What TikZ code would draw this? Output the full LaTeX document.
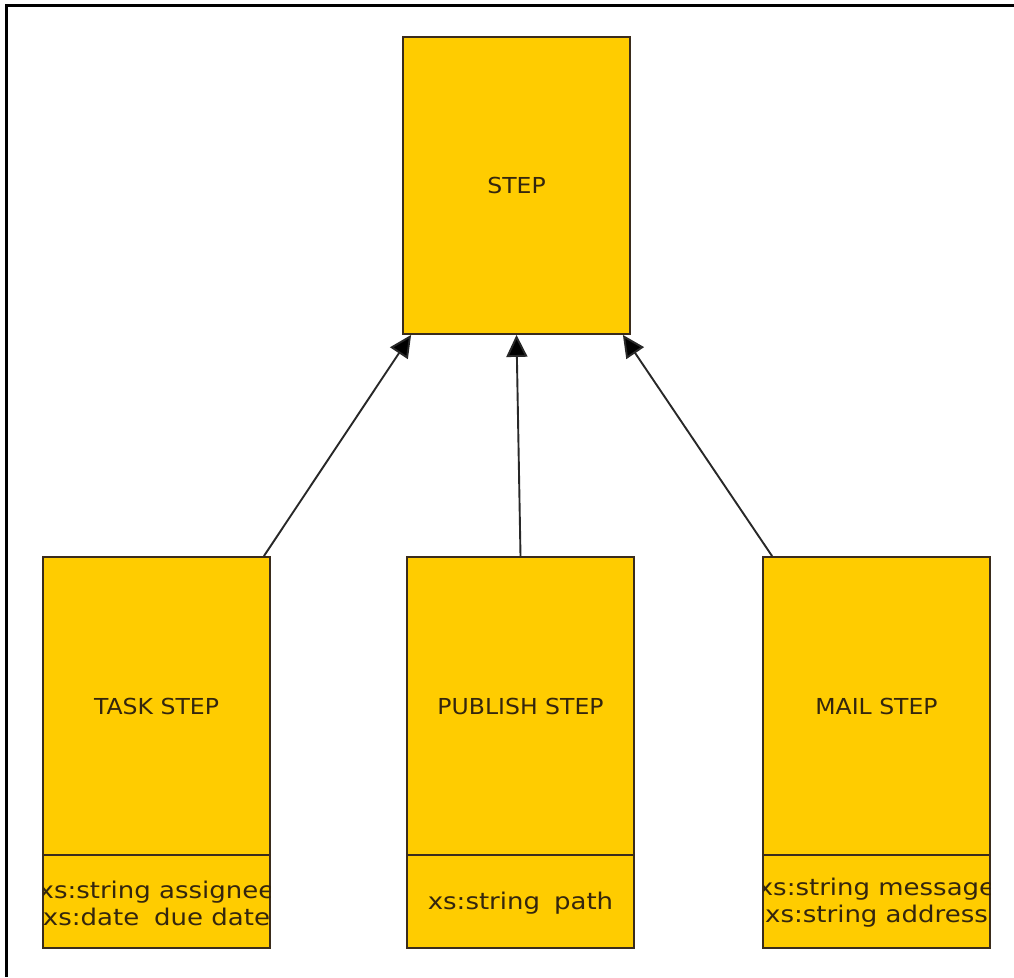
\documentclass[tikz,border=0pt]{standalone}
\usepackage{fontspec}
\usetikzlibrary{arrows.meta}
\newfontfamily\titlefont[FakeStretch=1.07]{DejaVu Sans}
\newfontfamily\attrfont[FakeStretch=1.13]{DejaVu Sans}
\definecolor{boxfill}{RGB}{255,204,0}
\definecolor{boxline}{RGB}{58,44,28}
\definecolor{boxtext}{RGB}{52,38,14}
\definecolor{linkline}{RGB}{40,40,40}
\tikzset{
  classbox/.style={rectangle, draw=boxline, fill=boxfill, line width=1.8pt,
    minimum width=227pt, inner sep=0pt, text=boxtext,
    font=\titlefont\fontsize{22}{26}\selectfont},
  attrbox/.style={rectangle, draw=boxline, fill=boxfill, line width=1.8pt,
    minimum width=227pt, minimum height=93pt, inner sep=0pt},
  attrtext/.style={inner sep=0pt, text=boxtext, align=center,
    font=\attrfont\fontsize{23}{27}\selectfont},
  inherit/.style={draw=linkline, line width=1.9pt,
    -{Triangle[length=22pt,width=21pt,fill=black]}},
  frameline/.style={draw=black, line width=3pt}
}
\begin{document}
\begin{tikzpicture}[x=1pt, y=-1pt]
  \useasboundingbox (0,0) rectangle (1014,977);
  % page frame (top and left edges)
  \draw[frameline] (1014,5) -- (6,5) -- (6,977);

  % base class
  \node[classbox, minimum height=297pt] (step) at (516.5,185.5) {STEP};

  % derived classes: name compartment
  \node[classbox, minimum height=298pt] (task) at (156.5,706) {TASK STEP};
  \node[classbox, minimum height=298pt] (pub)  at (520.5,706) {PUBLISH STEP};
  \node[classbox, minimum height=298pt] (mail) at (876.5,706) {MAIL STEP};

  % derived classes: attribute compartment
  \node[attrbox] (taskattr) at (156.5,901.5) {};
  \node[attrbox] (pubattr)  at (520.5,901.5) {};
  \node[attrbox] (mailattr) at (876.5,901.5) {};

  \begin{scope}
    \clip ([xshift=0.9pt]taskattr.south west) rectangle ([xshift=-0.9pt]taskattr.north east);
    \node[attrtext] (tasktxt) at ([yshift=-1.5pt]taskattr.center)
      {xs:string assignee\\xs:date\hspace{15pt}due date};
  \end{scope}
  \node[attrtext] (pubtxt) at ([yshift=-1.5pt]pubattr.center) {xs:string\hspace{14pt}path};
  \begin{scope}
    \clip ([xshift=0.9pt]mailattr.south west) rectangle ([xshift=-0.9pt]mailattr.north east);
    \node[attrtext] (mailtxt) at ([yshift=-1.5pt]mailattr.center)
      {xs:string message\\xs:string address};
  \end{scope}

  % inheritance links
  \coordinate (taskout) at ([xshift=-7pt]task.north east);
  \coordinate (mailout) at ([xshift=10pt]mail.north west);
  \coordinate (stepleft)  at ([xshift=9pt]step.south west);
  \coordinate (stepright) at ([xshift=-8pt]step.south east);
  \draw[inherit] (taskout) -- (stepleft);
  \draw[inherit] (pub.north) -- (step.south);
  \draw[inherit] (mailout) -- (stepright);
\end{tikzpicture}
\end{document}
